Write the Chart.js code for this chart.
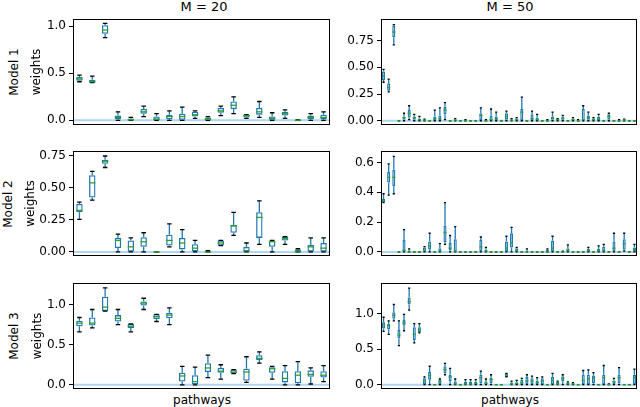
<!DOCTYPE html>
<html>
<head>
<meta charset="utf-8">
<script src="https://cdn.jsdelivr.net/npm/chart.js@4/dist/chart.umd.min.js"></script>
<style>
  body { margin: 0; width: 640px; height: 407px; background: #fff; position: relative; overflow: hidden;
         font-family: "DejaVu Sans", sans-serif; color: #000; }
  canvas { position: absolute; }
  .lbl { position: absolute; font-size: 12px; white-space: nowrap; line-height: 1; }
  .ttl { font-size: 13px; }
  .rot { transform: translate(-50%, -50%) rotate(-90deg); }
  .ctr { transform: translateX(-50%); }
</style>
</head>
<body>
<div class="lbl ttl ctr" style="left:204px;top:0px">M = 20</div>
<div class="lbl ttl ctr" style="left:510px;top:0px">M = 50</div>
<div class="lbl rot" style="left:14px;top:72px">Model 1</div>
<div class="lbl rot" style="left:8px;top:204px">Model 2</div>
<div class="lbl rot" style="left:14px;top:336px">Model 3</div>
<div class="lbl ctr" style="left:202px;top:394px">pathways</div>
<div class="lbl ctr" style="left:510px;top:394px">pathways</div>

<script>
// each row: [lower whisker, q1, median, q3, upper whisker]
const model1M20 = [
  [0.41, 0.42, 0.44, 0.46, 0.48], [0.40, 0.40, 0.41, 0.43, 0.47], [0.88, 0.92, 0.96, 1.01, 1.03],
  [0, 0.01, 0.03, 0.05, 0.09], [0, 0, 0.005, 0.02, 0.03], [0.04, 0.07, 0.09, 0.12, 0.15],
  [0, 0, 0.01, 0.04, 0.07], [0, 0.01, 0.04, 0.06, 0.10], [0, 0, 0.04, 0.07, 0.14],
  [0.02, 0.04, 0.06, 0.09, 0.10], [0, 0, 0.01, 0.03, 0.04], [0.05, 0.08, 0.10, 0.13, 0.15],
  [0.07, 0.12, 0.16, 0.20, 0.25], [0.02, 0.03, 0.05, 0.06, 0.06], [0.03, 0.06, 0.09, 0.13, 0.20],
  [0, 0, 0.02, 0.04, 0.08], [0.02, 0.05, 0.07, 0.09, 0.11], [0, 0, 0, 0.005, 0.005],
  [0, 0.01, 0.03, 0.05, 0.07], [0, 0.01, 0.03, 0.06, 0.09]
];
const model1M50 = [
  [0.36, 0.38, 0.42, 0.46, 0.48], [0.27, 0.28, 0.31, 0.35, 0.39], [0.71, 0.78, 0.83, 0.89, 0.90],
  [0, 0, 0, 0, 0], [0, 0.01, 0.03, 0.04, 0.07], [0.01, 0.03, 0.07, 0.10, 0.14],
  [0, 0.01, 0.03, 0.04, 0.06], [0, 0, 0.01, 0.02, 0.04], [0, 0, 0.005, 0.01, 0.015],
  [0, 0, 0, 0, 0], [0, 0, 0.02, 0.04, 0.10], [0, 0, 0.02, 0.05, 0.12],
  [0.01, 0.06, 0.10, 0.13, 0.17], [0, 0, 0, 0, 0], [0, 0, 0.005, 0.01, 0.02],
  [0, 0, 0, 0, 0], [0, 0, 0, 0.005, 0.01], [0, 0, 0, 0, 0],
  [0, 0, 0, 0, 0], [0, 0, 0.05, 0.07, 0.12], [0, 0, 0, 0.005, 0.01],
  [0, 0, 0.01, 0.05, 0.11], [0, 0, 0.02, 0.04, 0.08], [0, 0, 0, 0, 0],
  [0, 0.01, 0.04, 0.07, 0.09], [0, 0, 0.005, 0.01, 0.02], [0, 0, 0.01, 0.02, 0.03],
  [0, 0, 0.08, 0.11, 0.22], [0, 0, 0, 0, 0], [0, 0, 0.02, 0.06, 0.09],
  [0, 0, 0.01, 0.03, 0.06], [0, 0, 0, 0, 0], [0, 0, 0, 0.01, 0.01],
  [0, 0.01, 0.03, 0.04, 0.08], [0, 0, 0.01, 0.02, 0.02], [0, 0.01, 0.02, 0.04, 0.05],
  [0, 0, 0, 0, 0], [0, 0, 0.01, 0.02, 0.03], [0, 0, 0, 0.01, 0.01],
  [0, 0, 0.01, 0.11, 0.14], [0, 0.01, 0.03, 0.05, 0.08], [0, 0, 0.01, 0.02, 0.03],
  [0, 0, 0.02, 0.04, 0.06], [0, 0, 0, 0, 0], [0, 0.01, 0.04, 0.06, 0.07],
  [0, 0, 0, 0, 0], [0, 0, 0, 0.01, 0.01], [0, 0, 0.005, 0.01, 0.015],
  [0, 0, 0, 0, 0], [0, 0, 0, 0, 0]
];
const model2M20 = [
  [0.255, 0.31, 0.325, 0.375, 0.39], [0.405, 0.425, 0.54, 0.60, 0.63], [0.66, 0.69, 0.71, 0.72, 0.75],
  [0, 0.03, 0.09, 0.11, 0.14], [0, 0, 0.04, 0.09, 0.11], [0, 0.04, 0.08, 0.115, 0.15],
  [0, 0, 0, 0, 0], [0.04, 0.05, 0.09, 0.135, 0.22], [0, 0.02, 0.07, 0.11, 0.175],
  [0, 0.005, 0.03, 0.06, 0.09], [0, 0, 0, 0.01, 0.01], [0.05, 0.05, 0.07, 0.09, 0.09],
  [0.13, 0.15, 0.205, 0.21, 0.31], [0, 0, 0.01, 0.04, 0.07], [0.06, 0.11, 0.27, 0.31, 0.40],
  [0, 0.04, 0.08, 0.09, 0.09], [0.06, 0.09, 0.105, 0.12, 0.12], [0, 0, 0, 0.02, 0.025],
  [0, 0, 0.04, 0.055, 0.11], [0, 0, 0.03, 0.07, 0.11]
];
const model2M50 = [
  [0.33, 0.335, 0.34, 0.355, 0.39], [0.38, 0.465, 0.50, 0.535, 0.59], [0.39, 0.44, 0.50, 0.55, 0.64],
  [0, 0, 0, 0, 0], [0, 0, 0.01, 0.08, 0.15], [0, 0, 0, 0.01, 0.02],
  [0, 0, 0, 0, 0], [0, 0, 0, 0, 0], [0, 0, 0.01, 0.03, 0.035],
  [0, 0.015, 0.04, 0.07, 0.125], [0, 0, 0, 0, 0], [0, 0, 0.005, 0.025, 0.055],
  [0.05, 0.065, 0.13, 0.175, 0.33], [0, 0.01, 0.025, 0.06, 0.11], [0, 0, 0.005, 0.085, 0.17],
  [0, 0, 0, 0, 0], [0, 0, 0, 0, 0], [0, 0, 0, 0, 0],
  [0, 0, 0, 0, 0], [0, 0, 0.035, 0.08, 0.10], [0, 0, 0.005, 0.015, 0.03],
  [0, 0, 0, 0, 0], [0, 0, 0, 0, 0], [0, 0, 0, 0, 0],
  [0, 0, 0.025, 0.07, 0.105], [0, 0.03, 0.06, 0.125, 0.165], [0, 0, 0.01, 0.025, 0.03],
  [0, 0, 0, 0, 0], [0, 0, 0, 0.01, 0.02], [0, 0, 0, 0, 0],
  [0, 0, 0, 0, 0], [0, 0, 0, 0, 0], [0, 0, 0, 0.015, 0.02],
  [0, 0, 0.025, 0.075, 0.105], [0, 0, 0, 0, 0], [0, 0, 0, 0.005, 0.005],
  [0, 0, 0.01, 0.025, 0.047], [0, 0, 0, 0, 0], [0, 0, 0, 0, 0],
  [0, 0, 0, 0, 0], [0, 0, 0.01, 0.02, 0.03], [0, 0, 0, 0, 0],
  [0, 0, 0.01, 0.02, 0.04], [0, 0, 0.01, 0.035, 0.05], [0, 0, 0, 0, 0],
  [0, 0, 0.025, 0.07, 0.125], [0, 0, 0, 0, 0], [0.005, 0.015, 0.055, 0.085, 0.125],
  [0, 0, 0, 0, 0], [0, 0, 0.015, 0.03, 0.05]
];
const model3M20 = [
  [0.66, 0.73, 0.77, 0.80, 0.84], [0.71, 0.74, 0.77, 0.84, 0.94], [0.92, 0.92, 0.97, 1.10, 1.21],
  [0.75, 0.79, 0.83, 0.87, 0.94], [0.66, 0.71, 0.73, 0.76, 0.76], [0.94, 0.99, 1.02, 1.04, 1.08],
  [0.79, 0.82, 0.85, 0.88, 0.88], [0.75, 0.83, 0.87, 0.90, 0.96], [0, 0.04, 0.11, 0.15, 0.23],
  [0, 0, 0.04, 0.12, 0.22], [0.09, 0.16, 0.21, 0.27, 0.37], [0.07, 0.15, 0.17, 0.21, 0.25],
  [0.14, 0.14, 0.16, 0.19, 0.19], [0.03, 0.05, 0.16, 0.20, 0.35], [0.27, 0.31, 0.33, 0.37, 0.41],
  [0.07, 0.15, 0.20, 0.22, 0.23], [0, 0.03, 0.08, 0.17, 0.24], [0, 0.02, 0.12, 0.17, 0.29],
  [0.01, 0.10, 0.13, 0.18, 0.21], [0.04, 0.09, 0.12, 0.17, 0.24]
];
const model3M50 = [
  [0.75, 0.79, 0.84, 0.88, 0.95], [0.71, 0.78, 0.83, 0.86, 0.90], [0.90, 0.93, 0.98, 1.02, 1.13],
  [0.55, 0.65, 0.70, 0.77, 0.90], [0.76, 0.83, 0.87, 0.91, 0.99], [1.05, 1.13, 1.17, 1.23, 1.36],
  [0.59, 0.63, 0.71, 0.81, 0.86], [0.73, 0.74, 0.77, 0.81, 0.86], [0, 0.01, 0.05, 0.09, 0.11],
  [0, 0.07, 0.13, 0.18, 0.26], [0, 0, 0, 0, 0], [0, 0, 0.04, 0.07, 0.08],
  [0.14, 0.16, 0.21, 0.26, 0.30], [0, 0.05, 0.11, 0.14, 0.23], [0, 0, 0.01, 0.05, 0.08],
  [0, 0, 0, 0, 0], [0, 0, 0.01, 0.04, 0.07], [0, 0, 0.01, 0.04, 0.07],
  [0, 0, 0.02, 0.04, 0.07], [0, 0.02, 0.10, 0.14, 0.19], [0, 0, 0.02, 0.05, 0.08],
  [0, 0.02, 0.07, 0.10, 0.14], [0, 0, 0, 0, 0], [0, 0, 0, 0, 0],
  [0.11, 0.11, 0.14, 0.16, 0.16], [0, 0, 0.01, 0.03, 0.05], [0, 0, 0.02, 0.03, 0.06],
  [0, 0, 0.03, 0.07, 0.09], [0, 0, 0.05, 0.11, 0.14], [0, 0, 0.05, 0.09, 0.12],
  [0, 0, 0.03, 0.06, 0.10], [0, 0, 0.05, 0.09, 0.11], [0, 0, 0, 0, 0],
  [0, 0, 0.06, 0.11, 0.16], [0, 0, 0.01, 0.04, 0.05], [0, 0.05, 0.09, 0.12, 0.14],
  [0, 0, 0.01, 0.03, 0.04], [0, 0, 0.01, 0.02, 0.03], [0, 0, 0, 0, 0],
  [0, 0, 0.06, 0.14, 0.20], [0, 0, 0.08, 0.14, 0.21], [0, 0.02, 0.09, 0.13, 0.17],
  [0, 0, 0, 0, 0], [0, 0, 0.10, 0.14, 0.27], [0, 0, 0, 0.005, 0.01],
  [0, 0, 0.04, 0.06, 0.09], [0, 0.02, 0.10, 0.14, 0.24], [0, 0, 0, 0, 0],
  [0, 0, 0, 0, 0], [0, 0, 0.10, 0.14, 0.22]
];

const ticks1M20 = [0, 0.5, 1.0];
const ticks1M50 = [0, 0.25, 0.5, 0.75];
const ticks2M20 = [0, 0.25, 0.5, 0.75];
const ticks2M50 = [0, 0.2, 0.4, 0.6];
const ticks3M20 = [0, 0.5, 1.0];
const ticks3M50 = [0, 0.5, 1.0];

Chart.defaults.font.family = "'DejaVu Sans', sans-serif";
Chart.defaults.font.size = 12;
Chart.defaults.color = "#000";

const BLUE = "#1f77b4";
const GREEN = "#2ca02c";

const boxPlugin = {
  id: "boxes",
  beforeDatasetsDraw(chart) {
    const { ctx, chartArea: a, scales: { y } } = chart;
    const y0 = y.getPixelForValue(0);
    ctx.save();
    ctx.strokeStyle = "#add6ef";
    ctx.lineWidth = 2;
    ctx.beginPath();
    ctx.moveTo(a.left, y0);
    ctx.lineTo(a.right, y0);
    ctx.stroke();
    ctx.restore();
  },
  afterDatasetsDraw(chart) {
    const { ctx, scales: { y } } = chart;
    const rows = chart.data.datasets[0].rows;
    const bars = chart.getDatasetMeta(0).data;
    ctx.save();
    rows.forEach((r, i) => {
      const cx = bars[i].x;
      const w = bars[i].width;
      const cap = w * 0.35;
      // whiskers
      ctx.strokeStyle = BLUE;
      ctx.lineWidth = 1.3;
      ctx.beginPath();
      ctx.moveTo(cx, y.getPixelForValue(r[3]));
      ctx.lineTo(cx, y.getPixelForValue(r[4]));
      ctx.moveTo(cx, y.getPixelForValue(r[1]));
      ctx.lineTo(cx, y.getPixelForValue(r[0]));
      ctx.stroke();
      // caps
      ctx.strokeStyle = "#000";
      ctx.beginPath();
      [r[0], r[4]].forEach((v) => {
        const py = y.getPixelForValue(v);
        ctx.moveTo(cx - cap, py);
        ctx.lineTo(cx + cap, py);
      });
      ctx.stroke();
      // median
      ctx.strokeStyle = GREEN;
      ctx.lineWidth = 1.3;
      ctx.beginPath();
      const my = y.getPixelForValue(r[2]);
      ctx.moveTo(cx - w / 2, my);
      ctx.lineTo(cx + w / 2, my);
      ctx.stroke();
    });
    ctx.restore();
  },
  afterDraw(chart) {
    const { ctx, chartArea: a } = chart;
    ctx.save();
    ctx.strokeStyle = "#000";
    ctx.lineWidth = 1;
    ctx.strokeRect(Math.round(a.left) + 0.5, Math.round(a.top) + 0.5,
      Math.round(a.right - a.left) - 1, Math.round(a.bottom - a.top) - 1);
    ctx.restore();
  }
};

function makePanel(rows, tickVals, decimals, yMin, yMax, box, leftCol) {
  const canvas = document.createElement("canvas");
  const padTop = 8, padBottom = 8;
  canvas.width = box.w;
  canvas.height = box.h + padTop + padBottom;
  canvas.style.left = box.x + "px";
  canvas.style.top = (box.y - padTop) + "px";
  document.body.appendChild(canvas);

  new Chart(canvas, {
    type: "bar",
    data: {
      labels: rows.map((r, i) => String(i + 1)),
      datasets: [{
        data: rows.map((r) => [r[1], r[3]]),
        rows: rows,
        backgroundColor: "rgba(255,255,255,0)",
        borderColor: BLUE,
        borderWidth: 1.3,
        borderSkipped: false,
        categoryPercentage: 1,
        barPercentage: leftCol ? 0.5 : 0.6
      }]
    },
    options: {
      responsive: false,
      animation: false,
      devicePixelRatio: 1,
      layout: { padding: { top: padTop, bottom: padBottom, left: 0, right: box.padRight } },
      plugins: { legend: { display: false }, tooltip: { enabled: false } },
      scales: {
        x: { display: false },
        y: {
          min: yMin,
          max: yMax,
          afterBuildTicks(scale) {
            scale.ticks = tickVals.map((v) => ({ value: v }));
          },
          afterFit(scale) {
            scale.width = box.axisW;
          },
          ticks: {
            padding: 3,
            callback: (v) => Number(v).toFixed(decimals)
          },
          grid: { drawOnChartArea: false, drawTicks: true, tickLength: 4, color: "#000" },
          border: { display: false },
          title: { display: leftCol, text: "weights", padding: { top: 4, bottom: 4 } }
        }
      }
    },
    plugins: [boxPlugin]
  });
}

// plot area on the left runs from x=73 to 330, on the right from 381 to 637
const leftBox = (x, y, h) => ({ x: x, y: y, w: 335 - x, h: h, axisW: 73 - x, padRight: 5 });
const rightBox = (y, h) => ({ x: 336, y: y, w: 303, h: h, axisW: 45, padRight: 2 });

makePanel(model1M20, ticks1M20, 1, -0.048, 1.075, leftBox(26, 17, 110), true);
makePanel(model1M50, ticks1M50, 2, -0.038, 0.95, rightBox(17, 110), false);
makePanel(model2M20, ticks2M20, 2, -0.03, 0.7875, leftBox(20, 149, 109), true);
makePanel(model2M50, ticks2M50, 1, -0.026, 0.675, rightBox(149, 109), false);
makePanel(model3M20, ticks3M20, 1, -0.05, 1.268, leftBox(27, 281, 110), true);
makePanel(model3M50, ticks3M50, 1, -0.058, 1.43, rightBox(281, 110), false);
</script>
</body>
</html>
